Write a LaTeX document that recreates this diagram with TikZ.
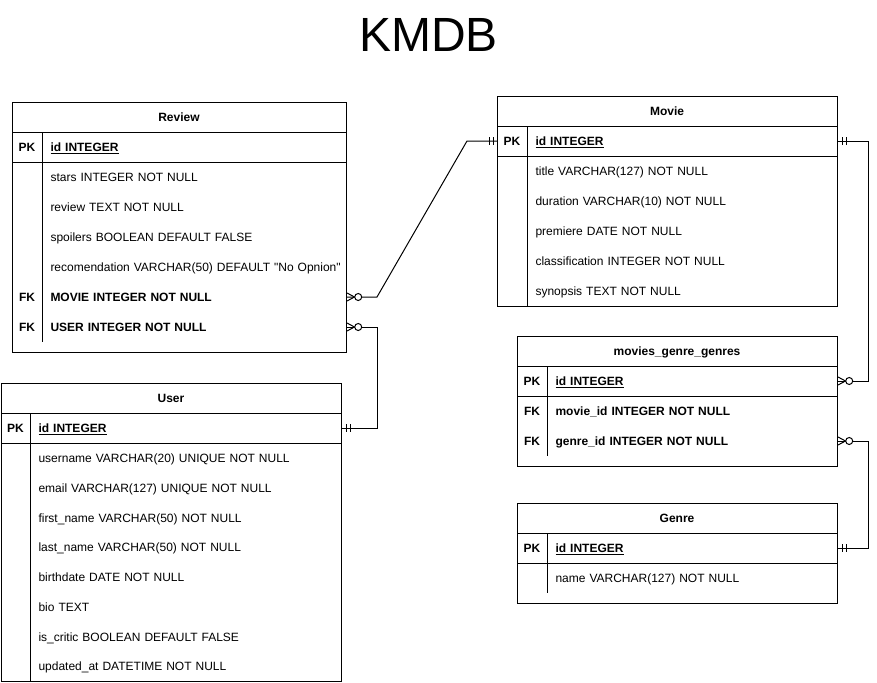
\documentclass[tikz,border=0pt]{standalone}
\usepackage{fontspec}
\setmainfont{Liberation Sans}
\newfontfamily\rawfont{Liberation Sans}
\begin{document}
\begin{tikzpicture}[x=1pt,y=-1pt,
  line width=1pt,
  tbox/.style={draw, line width=1pt, inner sep=0pt, anchor=north west},
  thead/.style={font=\fontsize{12}{14}\selectfont\bfseries, inner sep=0pt, text height=8.6pt, text depth=0pt},
  keycell/.style={font=\fontsize{12}{14}\selectfont\bfseries, inner sep=0pt, text height=8.6pt, text depth=0pt},
  field/.style={font=\fontsize{12}{14}\selectfont, inner sep=0pt, anchor=west, align=left, text width=#1,
                text height=8.6pt, text depth=0pt, minimum height=30pt},
  conn/.style={draw, line width=1pt},
  zeromany/.pic={\draw[line width=1pt] (0,-4) -- (7.5,0) -- (0,4);
                 \draw[line width=1pt, fill=white] (11.2,0) circle[radius=3.5];},
  onlyone/.pic={\draw[line width=1pt] (4,-4) -- (4,4) (8,-4) -- (8,4);}
]
\useasboundingbox (0,0) rectangle (877,682);

% Title
\node[inner sep=0pt, font=\fontsize{48}{56}\selectfont, text height=34.4pt, text depth=0pt] (title) at (428.5,34) {KMDB};

% ---------- Review ----------
\node[tbox, minimum width=334pt, minimum height=250pt] (review) at (12,102) {};
\node[thead] (rv-h) at (179,117.5) {Review};
\draw (12,132) -- (346,132);
\draw (12,162) -- (346,162);
\draw (42,132) -- (42,342);
\node[keycell] (rv-pkk) at (27,147.5) {PK};
\node[field=296pt] (rv-pk) at (50,147.5) {\textbf{\underline{id INTEGER}}};
\node[field=296pt] (rv-stars) at (50,177.5) {stars INTEGER NOT NULL};
\node[field=296pt] (rv-review) at (50,207.5) {review TEXT NOT NULL};
\node[field=296pt] (rv-spoil) at (50,237.5) {spoilers BOOLEAN DEFAULT FALSE};
\node[field=296pt] (rv-rec) at (50,267.5) {{\rawfont recomendation VARCHAR(50) DEFAULT "No Opnion"}};
\node[keycell] (rv-fk1) at (27,297.5) {FK};
\node[field=296pt] (rv-movie) at (50,297) {\textbf{MOVIE INTEGER NOT NULL}};
\node[keycell] (rv-fk2) at (27,327.5) {FK};
\node[field=296pt] (rv-user) at (50,327) {\textbf{USER INTEGER NOT NULL}};

% ---------- Movie ----------
\node[tbox, minimum width=340pt, minimum height=210pt] (movie) at (497,96) {};
\node[thead] (mv-h) at (667,111.5) {Movie};
\draw (497,126) -- (837,126);
\draw (497,156) -- (837,156);
\draw (527,126) -- (527,306);
\node[keycell] (mv-pkk) at (512,141.5) {PK};
\node[field=302pt] (mv-pk) at (535,141) {\textbf{\underline{id INTEGER}}};
\node[field=302pt] (mv-title) at (535,171.5) {title VARCHAR(127) NOT NULL};
\node[field=302pt] (mv-dur) at (535,201.5) {duration VARCHAR(10) NOT NULL};
\node[field=302pt] (mv-prem) at (535,231.5) {premiere DATE NOT NULL};
\node[field=302pt] (mv-class) at (535,261.5) {classification INTEGER NOT NULL};
\node[field=302pt] (mv-syn) at (535,291.5) {synopsis TEXT NOT NULL};

% ---------- movies_genre_genres ----------
\node[tbox, minimum width=320pt, minimum height=130pt] (mgg) at (517,336) {};
\node[thead] (mg-h) at (677,351.5) {movies\_genre\_genres};
\draw (517,366) -- (837,366);
\draw (517,396) -- (837,396);
\draw (547,366) -- (547,456);
\node[keycell] (mg-pkk) at (532,381.5) {PK};
\node[field=282pt] (mg-pk) at (555,381) {\textbf{\underline{id INTEGER}}};
\node[keycell] (mg-fk1) at (532,411.5) {FK};
\node[field=282pt] (mg-movie) at (555,411.5) {\textbf{movie\_id INTEGER NOT NULL}};
\node[keycell] (mg-fk2) at (532,441.5) {FK};
\node[field=282pt] (mg-genre) at (555,441) {\textbf{genre\_id INTEGER NOT NULL}};

% ---------- Genre ----------
\node[tbox, minimum width=320pt, minimum height=100pt] (genre) at (517,503) {};
\node[thead] (gn-h) at (677,518.5) {Genre};
\draw (517,533) -- (837,533);
\draw (517,563) -- (837,563);
\draw (547,533) -- (547,593);
\node[keycell] (gn-pkk) at (532,548.5) {PK};
\node[field=282pt] (gn-pk) at (555,548) {\textbf{\underline{id INTEGER}}};
\node[field=282pt] (gn-name) at (555,578.5) {name VARCHAR(127) NOT NULL};

% ---------- User ----------
\node[tbox, minimum width=340pt, minimum height=298pt] (user) at (1,383) {};
\node[thead] (us-h) at (171,398.5) {User};
\draw (1,413) -- (341,413);
\draw (1,443) -- (341,443);
\draw (30,413) -- (30,681);
\node[keycell] (us-pkk) at (15.5,428.5) {PK};
\node[field=303pt] (us-pk) at (38,428) {\textbf{\underline{id INTEGER}}};
\node[field=303pt, minimum height=29.75pt] (us-uname) at (38,458.4) {username VARCHAR(20) UNIQUE NOT NULL};
\node[field=303pt, minimum height=29.75pt] (us-email) at (38,488.1) {email VARCHAR(127) UNIQUE NOT NULL};
\node[field=303pt, minimum height=29.75pt] (us-first) at (38,517.9) {first\_name VARCHAR(50) NOT NULL};
\node[field=303pt, minimum height=29.75pt] (us-last) at (38,547.6) {last\_name VARCHAR(50) NOT NULL};
\node[field=303pt, minimum height=29.75pt] (us-birth) at (38,577.4) {birthdate DATE NOT NULL};
\node[field=303pt, minimum height=29.75pt] (us-bio) at (38,607.1) {bio TEXT};
\node[field=303pt, minimum height=29.75pt] (us-critic) at (38,636.9) {is\_critic BOOLEAN DEFAULT FALSE};
\node[field=303pt, minimum height=29.75pt] (us-upd) at (38,666.6) {updated\_at DATETIME NOT NULL};

% ---------- Connectors ----------
\draw[conn] (rv-movie.east) -- ([xshift=30pt]rv-movie.east)
  -- ([xshift=-30pt]movie.west |- mv-pk) -- (movie.west |- mv-pk);
\draw[conn] (rv-user.east) -- ++(30,0) |- (us-pk.east);
\draw[conn] (mv-pk.east) -- ++(30,0) |- (mg-pk.east);
\draw[conn] (mg-genre.east) -- ++(30,0) |- (gn-pk.east);

% ---------- End symbols ----------
\pic at (rv-movie.east) {zeromany};
\pic at (rv-user.east) {zeromany};
\pic at (mg-pk.east) {zeromany};
\pic at (mg-genre.east) {zeromany};
\pic[xscale=-1] at (movie.west |- mv-pk) {onlyone};
\pic at (mv-pk.east) {onlyone};
\pic at (us-pk.east) {onlyone};
\pic at (gn-pk.east) {onlyone};
\end{tikzpicture}
\end{document}
